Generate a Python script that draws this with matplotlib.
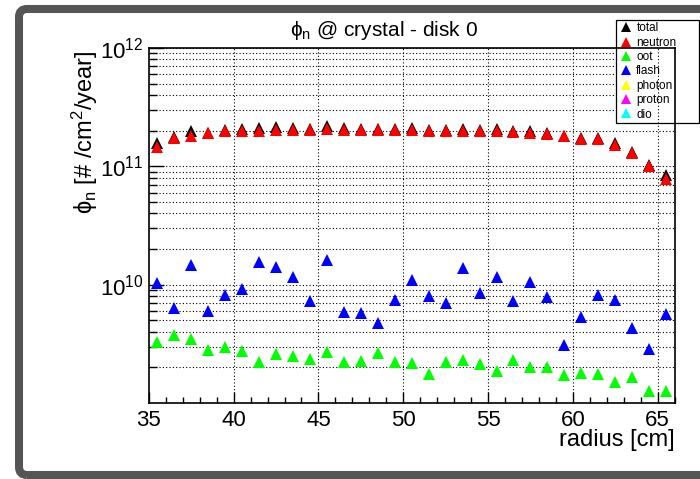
#!/usr/bin/env python3
"""
phi_n @ crystal - disk 0 : flux vs radius, ROOT-like style
"""

import numpy as np
import matplotlib.pyplot as plt
from matplotlib.patches import FancyBboxPatch
from matplotlib.transforms import IdentityTransform
from matplotlib.ticker import FixedLocator, LogLocator, NullFormatter, MultipleLocator

plt.rcParams['font.family'] = ['Liberation Sans', 'DejaVu Sans']
plt.rcParams['mathtext.fontset'] = 'custom'
plt.rcParams['mathtext.rm'] = 'Liberation Sans'
plt.rcParams['mathtext.it'] = 'Liberation Sans:italic'
plt.rcParams['mathtext.default'] = 'regular'
plt.rcParams['mathtext.fallback'] = 'stixsans'

# bin centres [cm]
radius = [35.5, 36.5, 37.5, 38.5, 39.5, 40.5, 41.5, 42.5, 43.5, 44.5,
          45.5, 46.5, 47.5, 48.5, 49.5, 50.5, 51.5, 52.5, 53.5, 54.5,
          55.5, 56.5, 57.5, 58.5, 59.5, 60.5, 61.5, 62.5, 63.5, 64.5, 65.5]

# flux [#/cm2/year]
total = [1.58e11, 1.76e11, 1.97e11, 1.93e11, 2.04e11, 2.05e11, 2.10e11, 2.15e11,
         2.10e11, 2.08e11, 2.21e11, 2.10e11, 2.06e11, 2.08e11, 2.08e11, 2.10e11,
         2.01e11, 2.01e11, 2.08e11, 2.04e11, 2.05e11, 1.97e11, 1.97e11, 1.91e11,
         1.82e11, 1.73e11, 1.73e11, 1.57e11, 1.33e11, 1.03e11, 8.45e10]
neutron = [1.45e11, 1.73e11, 1.80e11, 1.91e11, 1.97e11, 1.97e11, 1.98e11, 2.04e11,
           2.02e11, 2.01e11, 2.08e11, 2.04e11, 2.01e11, 2.02e11, 2.02e11, 2.01e11,
           1.97e11, 2.00e11, 2.00e11, 1.98e11, 1.97e11, 1.95e11, 1.91e11, 1.87e11,
           1.80e11, 1.69e11, 1.70e11, 1.52e11, 1.29e11, 1.01e11, 7.75e10]
oot = [3.30e9, 3.76e9, 3.49e9, 2.82e9, 2.97e9, 2.75e9, 2.23e9, 2.61e9,
       2.49e9, 2.35e9, 2.71e9, 2.23e9, 2.27e9, 2.67e9, 2.20e9, 2.17e9,
       1.77e9, 2.24e9, 2.33e9, 2.13e9, 1.86e9, 2.32e9, 2.03e9, 2.01e9,
       1.73e9, 1.80e9, 1.77e9, 1.49e9, 1.66e9, 1.26e9, 1.26e9]
flash = [1.04e10, 6.32e9, 1.48e10, 6.01e9, 8.22e9, 9.25e9, 1.56e10, 1.42e10,
         1.17e10, 7.21e9, 1.63e10, 5.93e9, 5.78e9, 4.75e9, 7.45e9, 1.09e10,
         8.06e9, 6.98e9, 1.38e10, 8.43e9, 1.17e10, 7.31e9, 1.05e10, 7.84e9,
         3.09e9, 5.35e9, 8.22e9, 7.35e9, 4.33e9, 2.86e9, 5.62e9]
# nothing visible in the range for these
photon = []
proton = []
dio = []

series = [
    ('total', total, 'black'),
    ('neutron', neutron, '#ff0000'),
    ('oot', oot, '#00ff00'),
    ('flash', flash, '#0000ff'),
    ('photon', photon, '#ffff00'),
    ('proton', proton, '#ff00ff'),
    ('dio', dio, '#00ffff'),
]

fig = plt.figure(figsize=(7, 4.79), dpi=100)
ax = fig.add_axes([0.2126, 0.1587, 0.7511, 0.7411])
ax.set_axisbelow(True)

handles = []
for name, vals, col in series:
    xs = radius[:len(vals)]
    h, = ax.plot(xs, vals, linestyle='none', marker='^', markersize=8.3,
                 markerfacecolor=col, markeredgewidth=0, color=col, label=name)
    handles.append(h)

ax.set_yscale('log')
ax.set_xlim(35, 66)
ax.set_ylim(1e9, 1e12)

ax.yaxis.set_major_locator(FixedLocator([1e10, 1e11, 1e12]))
ax.yaxis.set_minor_locator(LogLocator(base=10, subs=np.arange(2, 10), numticks=20))
ax.yaxis.set_minor_formatter(NullFormatter())
ax.xaxis.set_major_locator(MultipleLocator(5))
ax.xaxis.set_minor_locator(MultipleLocator(1))

ax.tick_params(which='both', direction='in', top=False, right=False,
               labelsize=16, width=1, color='black')
ax.tick_params(axis='y', which='major', length=11, pad=4)
ax.tick_params(axis='y', which='minor', length=6)
ax.tick_params(axis='x', which='major', length=8, pad=5)
ax.tick_params(axis='x', which='minor', length=4)

# grid: dotted, horizontal at every decade step, vertical at major x ticks
ax.grid(axis='y', which='both', color='black', linestyle=(0, (1, 2)), linewidth=0.8)
for xv in ax.get_xticks():
    if 35 < xv < 66:
        ax.axvline(xv, color='black', linestyle=(0, (1, 2)), linewidth=0.8, zorder=6)

for sp in ax.spines.values():
    sp.set_linewidth(1.2)
    sp.set_zorder(7)

leg = ax.legend(handles=handles, loc='upper left',
                bbox_to_anchor=(615.7 / 700, 1 - 20 / 479, 83 / 700, 0),
                bbox_transform=fig.transFigure, mode='expand',
                fontsize=8.5, markerscale=0.85, frameon=True, fancybox=False,
                framealpha=1, edgecolor='black', borderpad=0.2,
                handlelength=1.4, handletextpad=0.15, labelspacing=0.2,
                borderaxespad=0)
leg.get_frame().set_linewidth(0.9)
leg.set_zorder(5)

# titles
fig.text(0.549, 0.937, r'$\phi_{n}$ @ crystal - disk 0', ha='center', va='center', fontsize=15)
fig.text(85 / 700, 1 - 50 / 479, r'$\phi_{n}$ [# /cm$^{2}$/year]', rotation=90,
         ha='center', va='top', fontsize=17)
fig.text(675 / 700, 1 - 440 / 479, 'radius [cm]', ha='right', va='center', fontsize=17)

# canvas window frame
frame = FancyBboxPatch((19, 479 - 475), 720, 466,
                       boxstyle='round,pad=0,rounding_size=8',
                       transform=IdentityTransform(), fill=False,
                       edgecolor='#555555', linewidth=5.8)
fig.add_artist(frame)

fig.savefig('out.png', dpi=100)
